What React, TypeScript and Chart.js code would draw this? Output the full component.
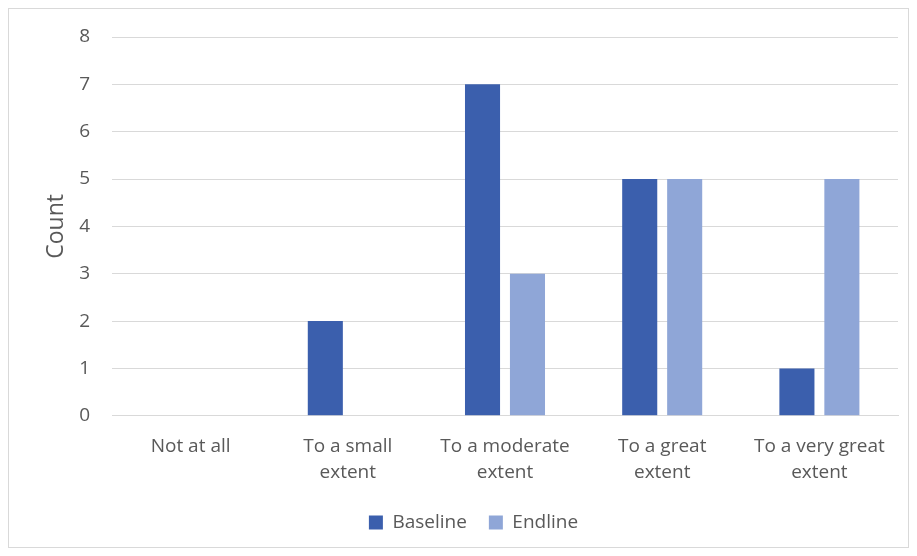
import React, { useEffect, useRef } from "react";
import { Chart, registerables } from "chart.js";

Chart.register(...registerables);

const categories: string[][] = [
  ["Not at all"],
  ["To a small", "extent"],
  ["To a moderate", "extent"],
  ["To a great", "extent"],
  ["To a very great", "extent"],
];
const baseline: number[] = [0, 2, 7, 5, 1];
const endline: number[] = [0, 0, 3, 5, 5];
const yTicks: number[] = [0, 1, 2, 3, 4, 5, 6, 7, 8];

const FONT = "'Open Sans', 'Noto Sans', sans-serif";
const TEXT = "#595959";

export default function App() {
  const ref = useRef<HTMLCanvasElement | null>(null);
  useEffect(() => {
    if (!ref.current) return;
    const chart = new Chart(ref.current, {
      type: "bar",
      data: {
        labels: categories,
        datasets: [
          {
            label: "Baseline",
            data: baseline,
            backgroundColor: "#3B5FAD",
            categoryPercentage: 0.572,
            barPercentage: 0.78,
          },
          {
            label: "Endline",
            data: endline,
            backgroundColor: "#8FA6D7",
            categoryPercentage: 0.572,
            barPercentage: 0.78,
          },
        ],
      },
      options: {
        animation: false,
        responsive: true,
        maintainAspectRatio: false,
        layout: { padding: { top: 28, right: 10, left: 40, bottom: 5 } },
        plugins: {
          tooltip: { enabled: false },
          legend: {
            position: "bottom",
            labels: {
              color: TEXT,
              font: { family: FONT, size: 19 },
              boxWidth: 14,
              boxHeight: 14,
              padding: 22,
            },
          },
        },
        scales: {
          x: {
            afterFit: (axis: any) => {
              axis.height = axis.height - 4;
            },
            grid: { display: false },
            border: { display: true, color: "#d9d9d9" },
            ticks: {
              color: TEXT,
              font: { family: FONT, size: 19, lineHeight: 1.4 },
              padding: 9,
              maxRotation: 0,
            },
          },
          y: {
            min: 0,
            max: 8,
            afterBuildTicks: (axis: any) => {
              axis.ticks = yTicks.map((v) => ({ value: v }));
            },
            afterFit: (axis: any) => {
              axis.width = 63;
              axis.paddingTop = 0;
              axis.paddingBottom = 0;
            },
            grid: { color: "#d9d9d9", drawTicks: false },
            border: { display: false },
            ticks: {
              color: TEXT,
              font: { family: FONT, size: 19 },
              padding: 22,
            },
            title: {
              display: true,
              text: "Count",
              color: TEXT,
              font: { family: FONT, size: 23 },
              padding: { top: -6, bottom: 4 },
            },
          },
        },
      },
    });
    return () => chart.destroy();
  }, []);
  return (
    <div
      style={{
        width: 899,
        height: 538,
        border: "1px solid #d9d9d9",
        background: "#fff",
        position: "relative",
      }}
    >
      <canvas ref={ref} />
    </div>
  );
}
